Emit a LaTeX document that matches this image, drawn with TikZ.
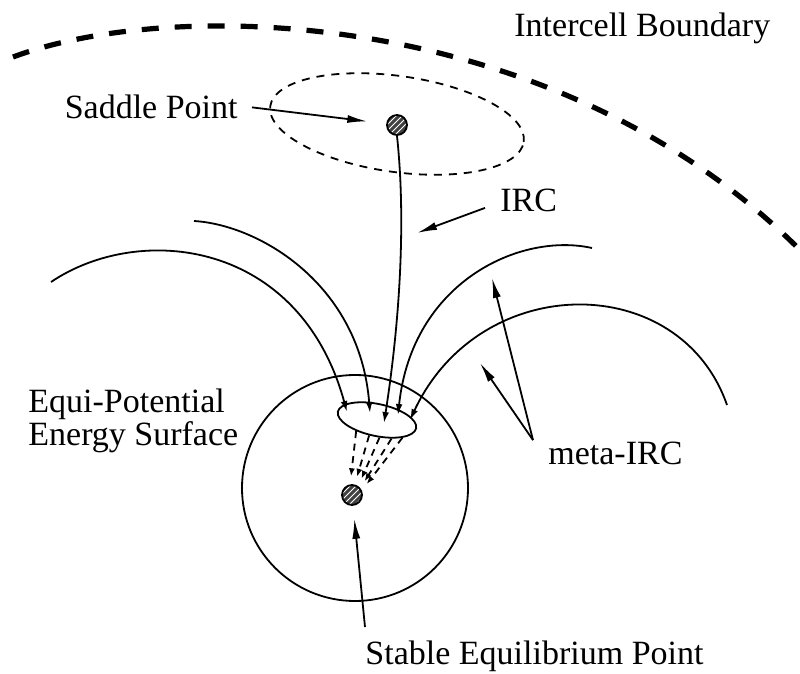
\documentclass[tikz,border=0pt]{standalone}
\usepackage{fontspec}
\setmainfont{Liberation Serif}
\usetikzlibrary{arrows.meta, positioning, shapes.geometric, calc, patterns}

\begin{document}
\begin{tikzpicture}[x=0.5pt, y=-0.5pt,
  font=\fontsize{17}{16.5}\selectfont,
  thinline/.style={line width=0.9pt},
  labeltext/.style={inner sep=0pt},
  pointer/.style={thinline, -{Latex[length=10pt, width=4pt]}},
  flow/.style={thinline, -{Latex[length=5.5pt, width=3.4pt]}},
  fall/.style={line width=0.9pt, dash pattern=on 3.5pt off 2.8pt, -{Latex[length=4pt, width=3pt]}, shorten >=4pt},
  critpoint/.style={circle, draw, thinline, preaction={fill=black!75}, pattern=north east lines, pattern color=white, minimum size=10pt, inner sep=0pt}
]
\useasboundingbox (0,0) rectangle (800,674);

% intercell boundary
\draw[line width=2.6pt, dash pattern=on 8.5pt off 8pt] (13,57) .. controls (180,-5) and (560,10) .. (800,250);
\node[labeltext, anchor=base west] (boundlbl) at (514,37) {Intercell Boundary};

% saddle point and its neighbourhood
\node[critpoint] (saddle) at (397,125) {};
\node[ellipse, draw, thinline, dash pattern=on 4pt off 3.5pt, minimum width=128pt, minimum height=48pt, inner sep=0pt, rotate=-8] (saddlezone) at (397,124) {};
\node[labeltext, anchor=base east] (saddlelbl) at (238,119) {Saddle Point};
\draw[pointer, shorten >=9.5pt] ([xshift=7pt]saddlelbl.east) -- (saddle);

% equi-potential surface round the minimum
\node[circle, draw, thinline, minimum size=113pt, inner sep=0pt] (surface) at (355,488) {};
\node[ellipse, draw, thinline, minimum width=40pt, minimum height=16pt, inner sep=0pt, rotate=-12] (basin) at (377,420) {};
\node[critpoint] (stable) at (352,495) {};
\node[labeltext, anchor=north west, align=left] (surflbl) at (28,389) {Equi-Potential\\Energy Surface};

% where the paths hit the surface
\coordinate (t1) at (347,412);
\coordinate (t2) at (370,413);
\coordinate (t3) at (384,423);
\coordinate (t4) at (398,415);
\coordinate (t5) at (410,420);

% IRC from the saddle point
\draw[flow] (saddle.south) .. controls (406,220) and (400,320) .. (t3);
\node[labeltext, anchor=base west] (irclbl) at (500,212) {IRC};
\coordinate (ircpt) at (417,233);
\draw[pointer] ([xshift=-7.5pt, yshift=-3.5pt]irclbl.west) -- (ircpt);

% meta-IRC paths
\coordinate (m1) at (51,282);
\coordinate (m2) at (194,221);
\coordinate (m4) at (592,248);
\coordinate (m5) at (727,405);
\draw[flow] (m1) .. controls (140,222) and (300,240) .. (t1);
\draw[flow] (m2) .. controls (260,225) and (360,285) .. (t2);
\draw[flow] (m4) .. controls (520,232) and (412,282) .. (t4);
\draw[flow] (m5) .. controls (680,270) and (480,270) .. (t5);

% steepest descent inside the surface
\foreach \a/\b in {220/100, 255/75, 290/55, 320/40, 337/25}
  \draw[fall] (basin.\a) -- (stable.\b);

\node[labeltext, anchor=base west] (metalbl) at (548,465) {meta-IRC};
\coordinate (mt1) at (492,278);
\coordinate (mt2) at (480,363);
\draw[pointer] ([xshift=-7.5pt, yshift=1pt]metalbl.north west) -- (mt1);
\draw[pointer] ([xshift=-7.5pt, yshift=1pt]metalbl.north west) -- (mt2);

\node[labeltext, anchor=base west] (stablelbl) at (365,665) {Stable Equilibrium Point};
\draw[pointer, shorten >=6.5pt] ([yshift=7pt]stablelbl.north west) -- (stable);
\end{tikzpicture}
\end{document}
